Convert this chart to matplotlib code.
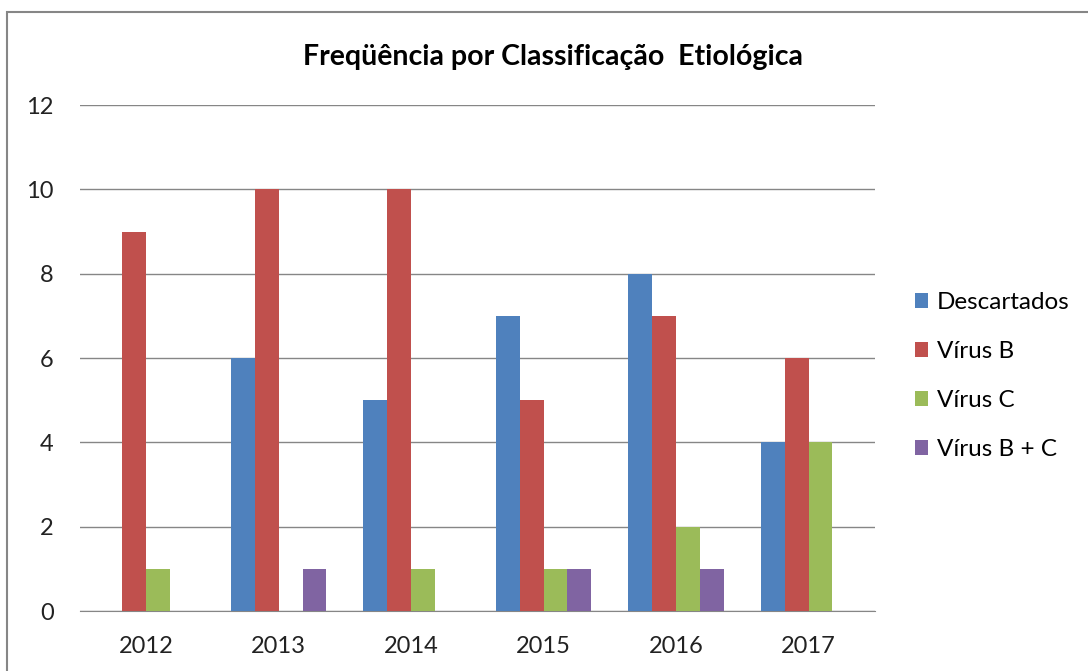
import matplotlib
matplotlib.use("Agg")
import matplotlib.pyplot as plt
import numpy as np
from matplotlib.patches import Rectangle

# ---------------------------------------------------------------------------
# Data
# ---------------------------------------------------------------------------
years = ["2012", "2013", "2014", "2015", "2016", "2017"]
descartados = [0, 6, 5, 7, 8, 4]
virus_b = [9, 10, 10, 5, 7, 6]
virus_c = [1, 0, 1, 1, 2, 4]
virus_bc = [0, 1, 0, 1, 1, 0]

series_names = ["Descartados", "Vírus B", "Vírus C", "Vírus B + C"]
series_values = [descartados, virus_b, virus_c, virus_bc]
colors = ["#4F81BD", "#C0504D", "#9BBB59", "#8064A2"]

plt.rcParams["font.family"] = ["Lato", "DejaVu Sans"]

fig = plt.figure(figsize=(10.88, 6.71), dpi=100)
ax = fig.add_axes([0.0735, 0.0894, 0.7305, 0.7541])

x = np.arange(len(years))
width = 0.18
offsets = (np.arange(len(series_names)) - 1.5) * width
for name, vals, col, off in zip(series_names, series_values, colors, offsets):
    ax.bar(x + off, vals, width, color=col, label=name, zorder=3)

ax.set_xlim(-0.5, len(years) - 0.5)
ax.set_ylim(0, 12)
ax.set_yticks(range(0, 13, 2))
ax.set_xticks(x)
ax.set_xticklabels(years)
ax.yaxis.grid(True, color="#868686", linewidth=1, zorder=0)
for side in ("left", "right", "top"):
    ax.spines[side].set_visible(False)
ax.spines["bottom"].set_color("#868686")
ax.tick_params(axis="both", length=0, labelsize=17, colors="#222222")
ax.tick_params(axis="y", pad=19)
ax.tick_params(axis="x", pad=18)

fig.text(0.508, 0.915, "Freqüência por Classificação  Etiológica",
         ha="center", va="center", fontsize=20.5, fontweight="bold")

ax.legend(loc="center left", bbox_to_anchor=(1.023, 0.464), frameon=False,
          fontsize=17.5, handlelength=0.55, handleheight=0.55,
          handletextpad=0.35, labelspacing=1.15)

# outer chart border (cropped at right/bottom)
fig.patches.append(Rectangle((7 / 1088, -0.1), 1.2, (671 - 12) / 671 + 0.1,
                             transform=fig.transFigure, fill=False,
                             edgecolor="#868686", linewidth=1.5))

fig.savefig("out.png", dpi=100)
